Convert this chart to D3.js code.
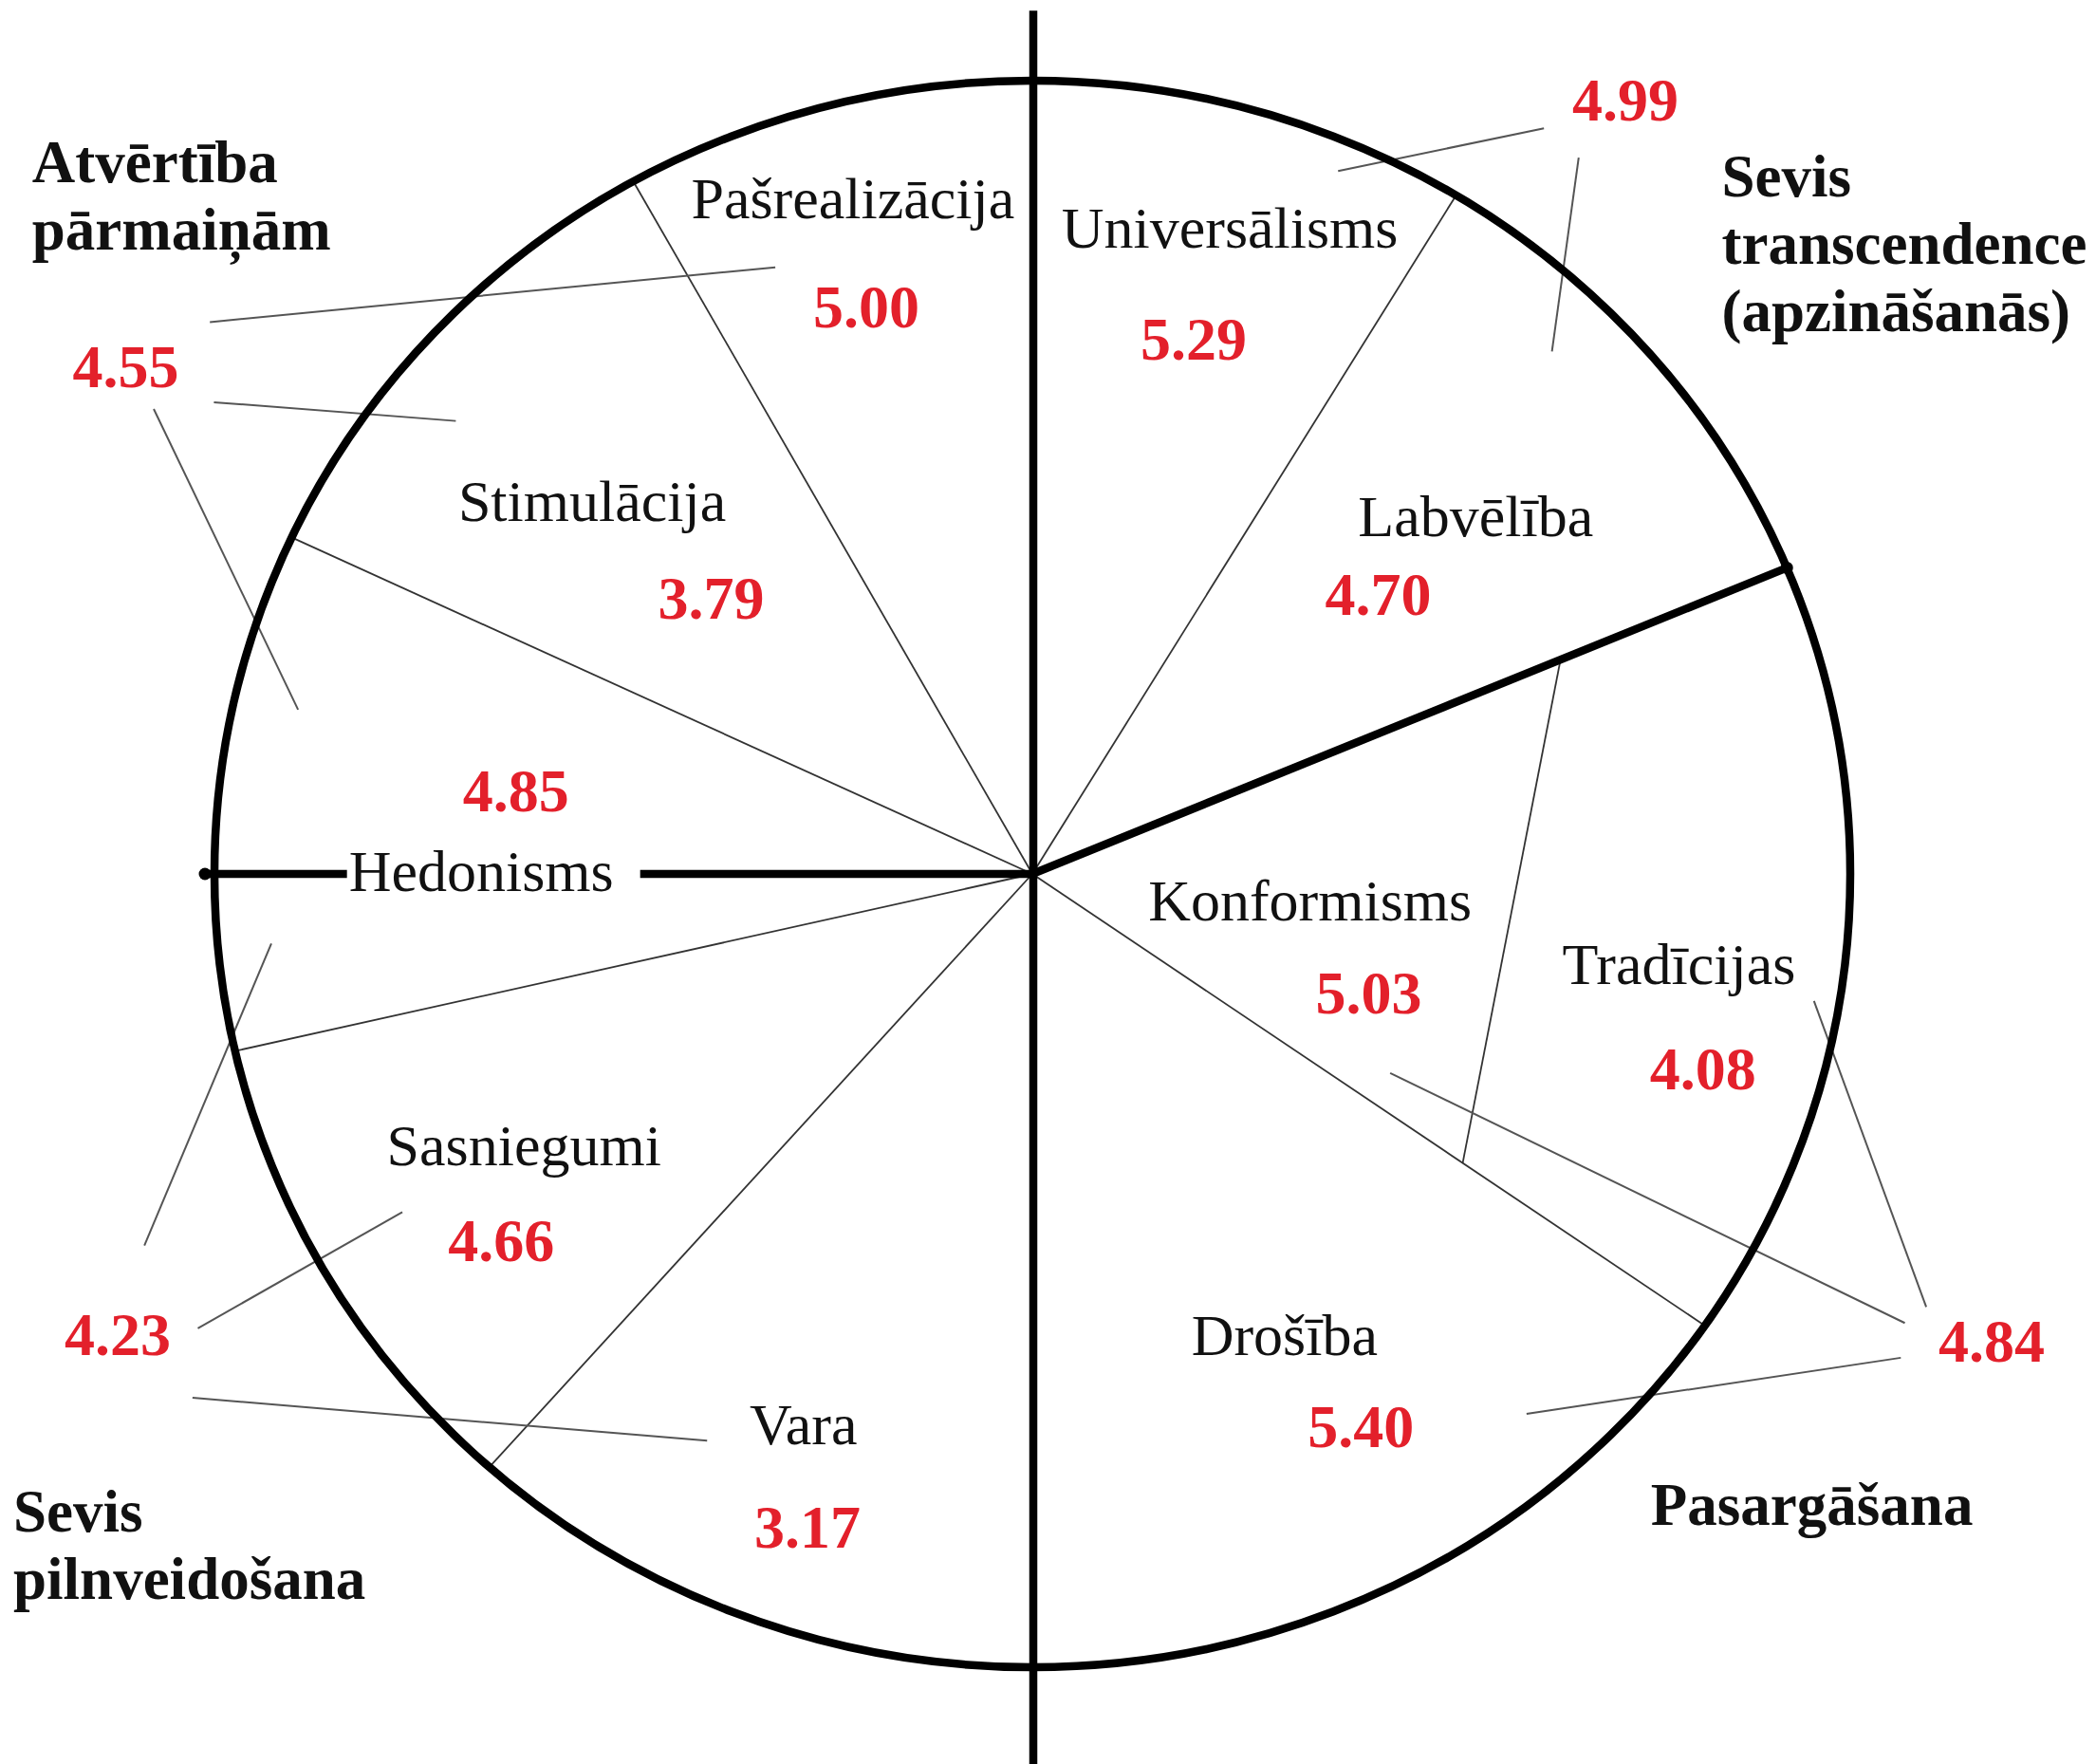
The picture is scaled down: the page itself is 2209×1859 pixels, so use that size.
<!DOCTYPE html>
<html>
<head>
<meta charset="utf-8">
<script src="https://cdn.jsdelivr.net/npm/d3@7"></script>
<style>
  body { margin: 0; background: #fff; }
  text { font-family: "Liberation Serif", "Times New Roman", serif; }
</style>
</head>
<body>
<svg id="chart"></svg>
<script>
// Schwartz values: 10 basic values and 4 higher-order groups
const values = ["Pašrealizācija", "Stimulācija", "Hedonisms", "Sasniegumi", "Vara",
                "Drošība", "Konformisms", "Tradīcijas", "Labvēlība", "Universālisms"];
const scores = [5.00, 3.79, 4.85, 4.66, 3.17, 5.40, 5.03, 4.08, 4.70, 5.29];

const groups = [["Atvērtība", "pārmaiņām"], ["Sevis", "pilnveidošana"],
                ["Pasargāšana"], ["Sevis", "transcendence", "(apzināšanās)"]];
const groupScores = [4.55, 4.23, 4.84, 4.99];

// boundaries between values (degrees, counter-clockwise from 3 o'clock)
const thinAngles = [119.2, 154.9, 192.9, 228.4, 325.3, 58.8];
const thickAngle = 22.7;

// layout on the reference grid (1568 x 1320), mapped through scales below
const labelPos = [[638, 163], [443, 390], [360, 667], [392, 872], [601, 1081],
                  [961, 1014], [980, 689], [1256, 736], [1104, 401], [920, 185]];
const scorePos = [[648, 245], [532, 463], [386, 607], [375, 944], [604, 1158],
                  [1018, 1083], [1024, 758], [1274, 815], [1031, 460], [893, 269]];
const groupPos = [[24, 136], [10, 1146], [1235, 1141], [1288, 147]];
const groupScorePos = [[94, 290], [88, 1014], [1490, 1019], [1216, 90]];
// callout leaders: [x1, y1, x2, y2]
const leaders = [
  [157, 241, 580, 200], [160, 301, 341, 315], [115, 306, 223, 531],
  [203, 706, 108, 932], [148, 994, 301, 907], [144, 1046, 529, 1078],
  [1357, 749, 1441, 978], [1040, 803, 1425, 990], [1142, 1058, 1422, 1016],
  [1001, 128, 1155, 96], [1181, 118, 1161, 263]
];

const W = 2209, H = 1859;
const svg = d3.select("#chart").attr("width", W).attr("height", H);

const sx = d3.scaleLinear().domain([0, 1568]).range([0, W]);
const sy = d3.scaleLinear().domain([0, 1320]).range([0, H]);

const cx = 1088, cy = 921, rx = 862, ry = 836;
const ang = d3.scaleLinear().domain([0, 360]).range([0, 2 * Math.PI]);
function onRim(deg, f = 1) {
  const a = ang(deg);
  return [cx + f * rx * Math.cos(a), cy - f * ry * Math.sin(a)];
}

const red = "#e3202b";

// thin spokes
svg.append("g")
  .selectAll("line")
  .data(thinAngles)
  .enter()
  .append("line")
  .attr("x1", cx).attr("y1", cy)
  .attr("x2", d => onRim(d)[0])
  .attr("y2", d => onRim(d)[1])
  .attr("stroke", "#333")
  .attr("stroke-width", 1.8);

// Tradīcijas inner boundary
const tA = onRim(thickAngle, 0.70), tB = onRim(thinAngles[4], 0.64);
svg.append("line")
  .attr("x1", tA[0]).attr("y1", tA[1])
  .attr("x2", tB[0]).attr("y2", tB[1])
  .attr("stroke", "#333")
  .attr("stroke-width", 1.8);

// callout leaders
svg.append("g")
  .selectAll("line")
  .data(leaders)
  .enter()
  .append("line")
  .attr("x1", d => sx(d[0])).attr("y1", d => sy(d[1]))
  .attr("x2", d => sx(d[2])).attr("y2", d => sy(d[3]))
  .attr("stroke", "#555")
  .attr("stroke-width", 2);

// outer circle
svg.append("ellipse")
  .attr("cx", cx).attr("cy", cy)
  .attr("rx", rx).attr("ry", ry)
  .attr("fill", "none")
  .attr("stroke", "#000")
  .attr("stroke-width", 8.5);

// value labels
svg.append("g")
  .selectAll("text")
  .data(values)
  .enter()
  .append("text")
  .attr("x", (d, i) => sx(labelPos[i][0]))
  .attr("y", (d, i) => sy(labelPos[i][1]))
  .attr("text-anchor", "middle")
  .attr("font-size", 62)
  .attr("fill", "#111")
  .text(d => d);

// value scores
svg.append("g")
  .selectAll("text")
  .data(scores)
  .enter()
  .append("text")
  .attr("x", (d, i) => sx(scorePos[i][0]))
  .attr("y", (d, i) => sy(scorePos[i][1]))
  .attr("text-anchor", "middle")
  .attr("font-size", 64)
  .attr("font-weight", "bold")
  .attr("fill", red)
  .text(d => d.toFixed(2));

// group names
groups.forEach((lines, i) => {
  const t = svg.append("text")
    .attr("x", sx(groupPos[i][0]))
    .attr("y", sy(groupPos[i][1]))
    .attr("font-size", 63)
    .attr("font-weight", "bold")
    .attr("fill", "#111");
  lines.forEach((l, j) => {
    t.append("tspan")
      .attr("x", sx(groupPos[i][0]))
      .attr("dy", j === 0 ? 0 : 71)
      .text(l);
  });
});

// group scores
svg.append("g")
  .selectAll("text")
  .data(groupScores)
  .enter()
  .append("text")
  .attr("x", (d, i) => sx(groupScorePos[i][0]))
  .attr("y", (d, i) => sy(groupScorePos[i][1]))
  .attr("text-anchor", "middle")
  .attr("font-size", 64)
  .attr("font-weight", "bold")
  .attr("fill", red)
  .text(d => d.toFixed(2));

// thick dividing lines
const thick = svg.append("g").attr("stroke", "#000").attr("stroke-width", 8.5);
thick.append("line")
  .attr("x1", cx + 1).attr("y1", sy(8))
  .attr("x2", cx + 1).attr("y2", H);

const hed = svg.selectAll("text").filter(function () { return d3.select(this).text() === "Hedonisms"; }).node().getBBox();
const leftEnd = cx - rx - 10;
thick.append("line")
  .attr("x1", leftEnd).attr("y1", cy)
  .attr("x2", hed.x - 2).attr("y2", cy);
thick.append("line")
  .attr("x1", hed.x + hed.width + 28).attr("y1", cy)
  .attr("x2", cx).attr("y2", cy);

const tEnd = onRim(thickAngle);
thick.append("line")
  .attr("x1", cx).attr("y1", cy)
  .attr("x2", tEnd[0]).attr("y2", tEnd[1]);

svg.selectAll(".dot")
  .data([[leftEnd, cy], tEnd])
  .enter()
  .append("circle")
  .attr("class", "dot")
  .attr("cx", d => d[0]).attr("cy", d => d[1])
  .attr("r", 6.5)
  .attr("fill", "#000");
</script>
</body>
</html>
